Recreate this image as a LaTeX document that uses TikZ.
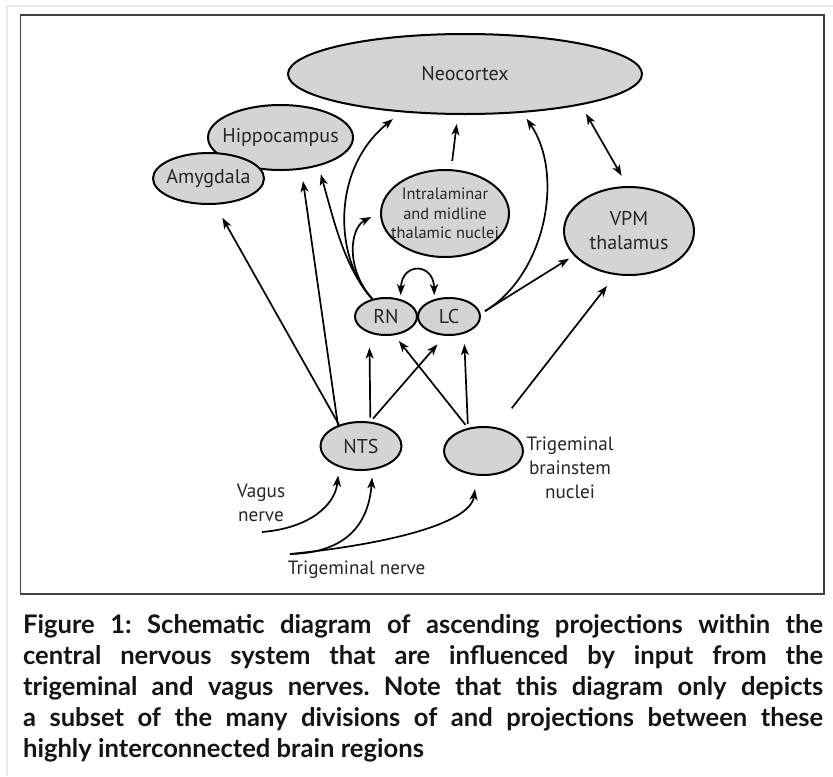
\documentclass[tikz,border=0pt]{standalone}
\usepackage{fontspec}
\usetikzlibrary{arrows.meta, shapes.geometric}
\newfontfamily\labelfont{PT Sans}
\newfontfamily\capfont{Lato}
\definecolor{regionfill}{RGB}{212,212,212}

\tikzset{
  region/.style={ellipse, draw, fill=regionfill, line width=1pt, inner sep=0pt,
    text=black!85, font=\labelfont\fontsize{10}{12}\selectfont},
  proj/.style={line width=0.85pt, -{Stealth[length=5.5pt,width=4pt,inset=1.5pt]}},
  mutual/.style={line width=0.85pt,
    {Stealth[length=5.5pt,width=4pt,inset=1.5pt]}-{Stealth[length=5.5pt,width=4pt,inset=1.5pt]}},
  textlabel/.style={text=black!85, align=center, inner sep=0pt,
    font=\labelfont\fontsize{9.6}{12}\selectfont},
  figcaption/.style={anchor=north west, text width=400pt, align=justify, inner sep=0pt,
    text=black!92, font=\capfont\bfseries\frenchspacing\fontsize{12.8}{15.5}\selectfont}
}

\begin{document}
\begin{tikzpicture}[x=0.5pt, y=-0.5pt]
    \useasboundingbox (0,0) rectangle (833,776);

    % Page edge and figure frame
    \draw[gray!15, line width=0.8pt] (7,776) -- (7,6) -- (833,6);
    \draw[black!75, line width=0.7pt] (20.7,15) rectangle (824,594);

    % Brain regions
    \node[region, minimum width=177pt, minimum height=40pt] (neo) at (465,74) {Neocortex};
    \node[region, minimum width=72.5pt, minimum height=32.5pt, inner xsep=-14pt] (hip) at (280.5,137.5) {Hippocampus};
    \node[region, minimum width=55.5pt, minimum height=25.5pt, inner xsep=-12pt] (amy) at (208.5,178.5) {Amygdala};
    \node[region, minimum width=64pt, minimum height=43.5pt, inner xsep=-16pt, align=center,
      font=\labelfont\fontsize{8.2}{9.75}\selectfont] (ilt) at (445,213.5) {Intralaminar\\and midline\\thalamic nuclei};
    \node[region, minimum width=65pt, minimum height=44pt, align=center] (vpm) at (629,231) {VPM\\thalamus};
    \node[region, minimum width=31pt, minimum height=18.5pt] (rn) at (386,316.5) {RN};
    \node[region, minimum width=31pt, minimum height=18.5pt] (lc) at (449,316.5) {LC};
    \node[region, minimum width=40.5pt, minimum height=24pt] (nts) at (361,446) {NTS};
    \node[region, minimum width=39.5pt, minimum height=24pt] (tbn) at (483.5,451) {};

    % Labels
    \node[textlabel] (tbnlabel) at (570,468) {Trigeminal\\brainstem\\nuclei};
    \node[textlabel] (vaguslabel) at (261,503) {Vagus\\nerve};
    \node[textlabel] (triglabel) at (356.7,570) {Trigeminal nerve};

    % Free ends
    \coordinate (vagusin) at (262,532);
    \coordinate (trignin) at (290,554);
    \coordinate (tbnvpm) at (511.7,408.3);

    % From NTS
    \draw[proj, shorten >=7.5pt] (nts.136) -- (amy.-76);
    \draw[proj, shorten >=5.8pt] (nts.138) -- (hip.-57.5);
    \draw[proj, shorten <=2pt, shorten >=7.2pt] (nts.69) -- (rn.225);
    \draw[proj, shorten <=2pt, shorten >=5.7pt] (nts.69) -- (lc.-102.6);

    % From trigeminal brainstem nuclei
    \draw[proj, shorten <=2pt, shorten >=3.6pt] (tbn.124.5) -- (rn.-66.7);
    \draw[proj, shorten <=2pt, shorten >=5.2pt] (tbn.124.5) -- (lc.-49);
    \draw[proj, shorten >=6.9pt] (tbnvpm) -- (vpm.-107.8);

    % From LC
    \draw[proj, shorten <=2.5pt, shorten >=2.8pt] (lc.5) -- (vpm.204);
    \draw[proj, shorten <=2.5pt, shorten >=3.6pt] (lc.5) .. controls (545,275) and (565,175) .. (neo.-34.3);

    % From RN
    \draw[proj, shorten >=4.2pt] (rn.128) .. controls (345,268) and (335,225) .. (hip.-37);
    \draw[proj, shorten >=5pt] (rn.128) .. controls (345,268) and (350,228) .. (ilt.179);
    \draw[proj, shorten >=5.4pt] (rn.128) .. controls (335,260) and (330,170) .. (neo.211.4);
    \draw[mutual, shorten <=2pt, shorten >=2pt] (rn.50) .. controls +(1,-37) and +(-1,-37) .. (lc.130);

    % Thalamus to cortex
    \draw[proj, shorten <=4.2pt, shorten >=4.6pt] (ilt.82.5) -- (neo.-100);
    \draw[mutual, shorten <=5pt, shorten >=5.9pt] (neo.-15.2) -- (vpm.92.5);

    % Nerve inputs
    \draw[proj, shorten >=4.2pt] (vagusin) .. controls (310,528) and (335,505) .. (nts.224);
    \draw[proj, shorten >=3.8pt] (trignin) .. controls (340,553) and (368,530) .. (nts.-64.5);
    \draw[proj, shorten >=6.8pt] (trignin) .. controls (380,545) and (470,525) .. (tbn.-105.4);

    % Caption
    \node[figcaption] (cap) at (22.7,614) {Figure 1: Schematic diagram of ascending projections within the\linebreak
      central nervous system that are influenced by input from the\linebreak
      trigeminal and vagus nerves. Note that this diagram only depicts\linebreak
      a subset of the many divisions of and projections between these\linebreak
      highly interconnected brain regions};
\end{tikzpicture}
\end{document}
